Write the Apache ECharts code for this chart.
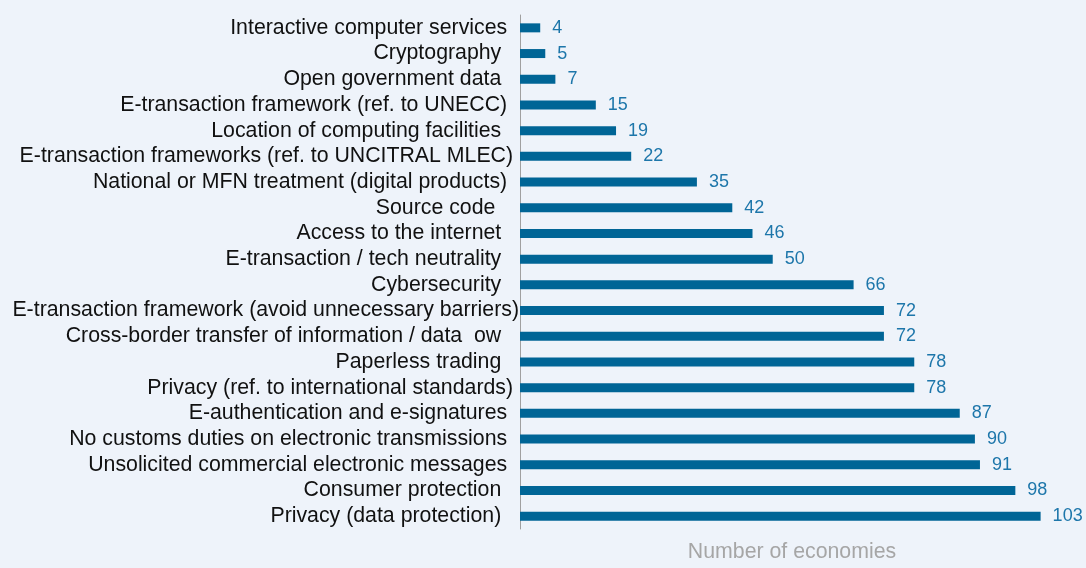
<!DOCTYPE html>
<html>
<head>
<meta charset="utf-8">
<script src="https://cdn.jsdelivr.net/npm/echarts@6/dist/echarts.min.js"></script>
<style>
html,body{margin:0;padding:0;background:#eef3fa;}
#c{width:1086px;height:568px;}
</style>
</head>
<body>
<div id="c"></div>
<script>
var categories = [
  "Interactive computer services  ",
  "Cryptography   ",
  "Open government data   ",
  "E-transaction framework (ref. to UNECC)  ",
  "Location of computing facilities   ",
  "E-transaction frameworks (ref. to UNCITRAL MLEC) ",
  "National or MFN treatment (digital products)  ",
  "Source code    ",
  "Access to the internet   ",
  "E-transaction / tech neutrality   ",
  "Cybersecurity   ",
  "E-transaction framework (avoid unnecessary barriers)",
  "Cross-border transfer of information / data  ow   ",
  "Paperless trading   ",
  "Privacy (ref. to international standards) ",
  "E-authentication and e-signatures  ",
  "No customs duties on electronic transmissions  ",
  "Unsolicited commercial electronic messages  ",
  "Consumer protection   ",
  "Privacy (data protection)   "
];
var values = [4, 5, 7, 15, 19, 22, 35, 42, 46, 50, 66, 72, 72, 78, 78, 87, 90, 91, 98, 103];
var axisName = "Number of economies";

var chart = echarts.init(document.getElementById('c'));
chart.setOption({
  backgroundColor: '#eef3fa',
  animation: false,
  grid: { left: 520, top: 15, width: 556, height: 522 },
  xAxis: {
    type: 'value', min: 0, max: 110,
    name: axisName, nameLocation: 'middle', nameGap: 13,
    nameTextStyle: { color: '#a6a6a6', fontSize: 21.3, fontFamily: 'Liberation Sans, Arial, sans-serif', verticalAlign: 'top', padding: [0, 12, 0, 0] },
    axisLine: { show: false }, axisTick: { show: false }, axisLabel: { show: false },
    splitLine: { show: false }
  },
  yAxis: {
    type: 'category', data: categories, inverse: true,
    axisLine: { show: true, lineStyle: { color: '#a0a0a0', width: 1 } },
    axisTick: { show: false },
    axisLabel: { interval: 0, margin: 1, color: '#111111', fontSize: 21.3, fontFamily: 'Liberation Sans, Arial, sans-serif', padding: [0, 0, 3, 0] },
    splitLine: { show: false }
  },
  series: [{
    type: 'bar', data: values, barWidth: 9,
    itemStyle: { color: '#006596' },
    label: { show: true, position: 'right', distance: 12, color: '#1d76aa', fontSize: 18, fontFamily: 'Liberation Sans, Arial, sans-serif', padding: [0, 0, 3, 0] }
  }]
});
</script>
</body>
</html>
